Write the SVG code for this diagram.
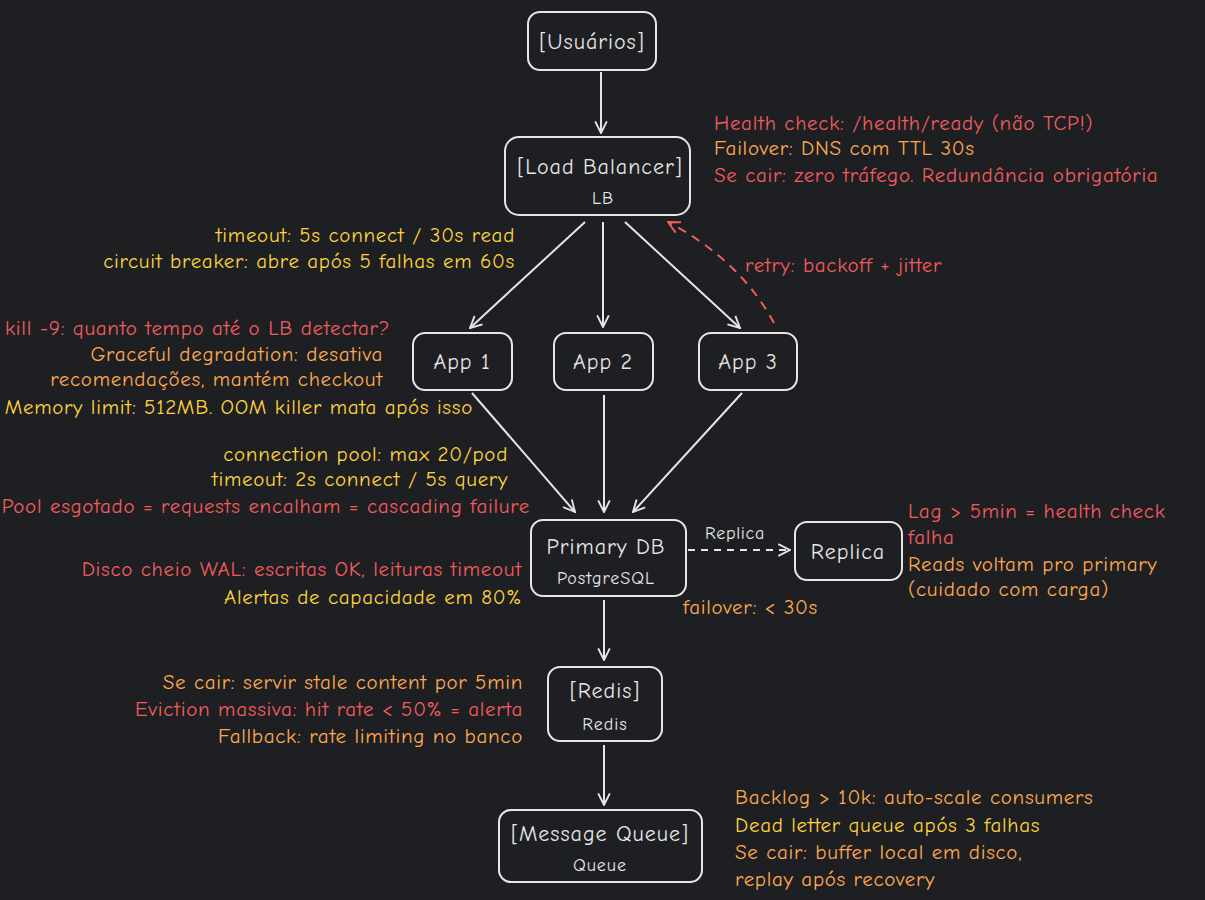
<svg xmlns="http://www.w3.org/2000/svg" width="1205" height="900" viewBox="0 0 1205 900">
<defs>
<marker id="ah" viewBox="0 0 12 12" refX="11" refY="6" markerWidth="14" markerHeight="14" markerUnits="userSpaceOnUse" orient="auto"><path d="M1,1 L11,6 L1,11" fill="none" stroke="#e6e6e6" stroke-width="1.6"/></marker>
<marker id="ahr" viewBox="0 0 12 12" refX="11" refY="6" markerWidth="14" markerHeight="14" markerUnits="userSpaceOnUse" orient="auto"><path d="M1,1 L11,6 L1,11" fill="none" stroke="#f25c5c" stroke-width="1.6"/></marker>
</defs>
<style>
text{font-family:"Comic Neue","Noto Sans","Liberation Sans",sans-serif;font-size:21px;letter-spacing:0.7px}
.n rect{fill:none;stroke:#e6e6e6;stroke-width:2}
.n text{fill:#e6e6e6;text-anchor:middle;font-size:22px;letter-spacing:1px}
.n .s{font-size:18px}
.c line,.c path{stroke:#e6e6e6;stroke-width:2;fill:none;marker-end:url(#ah)}
.r{fill:#f25c5c}.o{fill:#ffa94d}.y{fill:#ffd43b}
.e{text-anchor:end}
</style>
<rect width="1205" height="900" fill="#1e1f23"/>
<g class="c">
<line x1="601" y1="72" x2="601" y2="133"/>
<line x1="585" y1="222" x2="470" y2="328"/>
<line x1="603" y1="222" x2="603" y2="327"/>
<line x1="625" y1="222" x2="740" y2="328"/>
<path d="M774,323 Q740,260 668,222" style="stroke:#f25c5c;stroke-dasharray:9 7;marker-end:url(#ahr)"/>
<line x1="472" y1="393" x2="575" y2="512"/>
<line x1="604" y1="395" x2="604" y2="512"/>
<line x1="742" y1="393" x2="633" y2="512"/>
<line x1="688" y1="550" x2="790" y2="550" style="stroke-dasharray:7 6"/>
<line x1="604" y1="600" x2="604" y2="660"/>
<line x1="604" y1="745" x2="604" y2="805"/>
<text x="735" y="539" style="fill:#e6e6e6;text-anchor:middle;font-size:18px;stroke:none">Replica</text>
</g>
<g id="users" class="n"><rect x="528" y="12" width="128" height="58" rx="12"/><text x="592" y="49">[Usuários]</text></g>
<g id="lb" class="n"><rect x="505" y="137" width="185" height="78" rx="14"/><text x="600" y="174">[Load Balancer]</text><text class="s" x="603" y="204">LB</text></g>
<g id="app1" class="n"><rect x="413" y="333" width="99" height="57" rx="12"/><text x="462" y="369">App 1</text></g>
<g id="app2" class="n"><rect x="554" y="333" width="99" height="57" rx="12"/><text x="603" y="369">App 2</text></g>
<g id="app3" class="n"><rect x="699" y="333" width="98" height="57" rx="12"/><text x="748" y="369">App 3</text></g>
<g id="db" class="n"><rect x="531" y="520" width="155" height="76" rx="12"/><text x="606" y="554">Primary DB</text><text class="s" x="606" y="584">PostgreSQL</text></g>
<g id="replica" class="n"><rect x="795" y="522" width="107" height="58" rx="12"/><text x="848" y="559">Replica</text></g>
<g id="redis" class="n"><rect x="548" y="667" width="114" height="74" rx="12"/><text x="605" y="698">[Redis]</text><text class="s" x="605" y="730">Redis</text></g>
<g id="queue" class="n"><rect x="499" y="810" width="203" height="72" rx="12"/><text x="600" y="841">[Message Queue]</text><text class="s" x="600" y="871">Queue</text></g>
<g id="notes">
<text class="r" x="714" y="130">Health check: /health/ready (não TCP!)</text>
<text class="o" x="714" y="155">Failover: DNS com TTL 30s</text>
<text class="r" x="714" y="182">Se cair: zero tráfego. Redundância obrigatória</text>
<text class="y e" x="515" y="242">timeout: 5s connect / 30s read</text>
<text class="y e" x="515" y="268">circuit breaker: abre após 5 falhas em 60s</text>
<text class="r" x="745" y="272">retry: backoff + jitter</text>
<text class="r" x="5" y="335">kill -9: quanto tempo até o LB detectar?</text>
<text class="o e" x="383" y="361">Graceful degradation: desativa</text>
<text class="o e" x="383" y="386">recomendações, mantém checkout</text>
<text class="y e" x="473" y="414">Memory limit: 512MB. OOM killer mata após isso</text>
<text class="y e" x="508" y="461">connection pool: max 20/pod</text>
<text class="y e" x="508" y="486">timeout: 2s connect / 5s query</text>
<text class="r e" x="530" y="513">Pool esgotado = requests encalham = cascading failure</text>
<text class="r e" x="522" y="576">Disco cheio WAL: escritas OK, leituras timeout</text>
<text class="y e" x="522" y="604">Alertas de capacidade em 80%</text>
<text class="o" x="683" y="614">failover: &lt; 30s</text>
<text class="r" x="908" y="518">Lag &gt; 5min = health check</text>
<text class="r" x="908" y="544">falha</text>
<text class="o" x="908" y="571">Reads voltam pro primary</text>
<text class="o" x="908" y="596">(cuidado com carga)</text>
<text class="o e" x="523" y="689">Se cair: servir stale content por 5min</text>
<text class="r e" x="523" y="716">Eviction massiva: hit rate &lt; 50% = alerta</text>
<text class="o e" x="523" y="743">Fallback: rate limiting no banco</text>
<text class="o" x="735" y="804">Backlog &gt; 10k: auto-scale consumers</text>
<text class="y" x="735" y="832">Dead letter queue após 3 falhas</text>
<text class="o" x="735" y="859">Se cair: buffer local em disco,</text>
<text class="o" x="735" y="886">replay após recovery</text>
</g>
</svg>
